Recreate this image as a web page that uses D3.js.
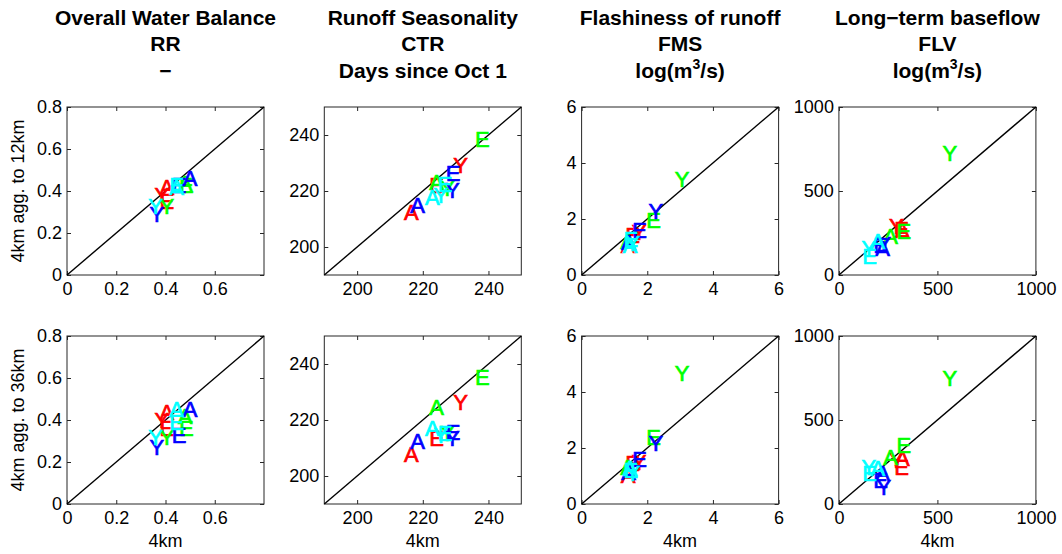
<!DOCTYPE html>
<html>
<head>
<meta charset="utf-8">
<script src="https://cdn.jsdelivr.net/npm/d3@7"></script>
<style>
  body { margin: 0; background: #fff; }
  svg text { font-family: 'Liberation Sans', Arial, Helvetica, sans-serif; }
</style>
</head>
<body>
<svg id="chart" width="1062" height="554"></svg>
<script>
//series order: red, green, blue, cyan; letters A, E, Y for each
var seriesColors = ['#ff0000', '#00ff00', '#0000ff', '#00ffff'];
var markerLetters = ['A', 'E', 'Y'];

//metric titles
var metricNames = ['Overall Water Balance', 'Runoff Seasonality', 'Flashiness of runoff', 'Long\u2212term baseflow'];
var metricCodes = ['RR', 'CTR', 'FMS', 'FLV'];
var metricUnits = ['\u2212', 'Days since Oct 1', 'log(m3/s)', 'log(m3/s)'];
var rowLabels = ['4km agg. to 12km', '4km agg. to 36km'];

//axis domains and ticks
var domains = [[0, 0.8], [190, 250], [0, 6], [0, 1000]];
var xTicks = [[0, 0.2, 0.4, 0.6], [200, 220, 240], [0, 2, 4, 6], [0, 500, 1000]];
var yTicks = [[0, 0.2, 0.4, 0.6, 0.8], [200, 220, 240], [0, 2, 4, 6], [0, 500, 1000]];

//4km values (x), order rA rE rY gA gE gY bA bE bY cA cE cY
var rr4 = [0.405, 0.405, 0.385, 0.48, 0.485, 0.405, 0.50, 0.455, 0.365, 0.445, 0.445, 0.36];
var ctr4 = [216.5, 224.2, 231.5, 224.2, 238.1, 227.5, 218.4, 229.2, 229.0, 222.9, 226.8, 225.5];
var fms4 = [1.42, 1.55, 1.75, 1.40, 2.19, 3.06, 1.43, 1.77, 2.26, 1.48, 1.50, 1.55];
var flv4 = [322, 318, 292, 262, 330, 563, 222, 212, 228, 198, 156, 152];

//aggregated to 12km (y, top row)
var rr12 = [0.42, 0.35, 0.38, 0.44, 0.43, 0.33, 0.46, 0.43, 0.29, 0.42, 0.43, 0.33];
var ctr12 = [212.4, 222.0, 229.2, 223.2, 238.4, 221.0, 214.8, 226.4, 220.4, 217.8, 222.6, 218.4];
var fms12 = [1.08, 1.42, 1.55, 1.20, 1.96, 3.44, 1.16, 1.62, 2.30, 1.06, 1.30, 1.15];
var flv12 = [265, 274, 293, 234, 262, 726, 163, 180, 185, 204, 114, 163];

//aggregated to 36km (y, bottom row)
var rr36 = [0.44, 0.36, 0.40, 0.42, 0.36, 0.32, 0.45, 0.33, 0.27, 0.45, 0.39, 0.32];
var ctr36 = [207.9, 213.5, 226.5, 224.5, 235.2, 215.5, 212.3, 215.8, 213.5, 217.0, 215.2, 214.6];
var fms36 = [1.05, 1.45, 1.50, 1.32, 2.38, 4.67, 1.15, 1.60, 2.17, 1.27, 1.20, 1.10];
var flv36 = [272, 222, 262, 282, 351, 748, 183, 143, 103, 212, 183, 222];

var xValues = [rr4, ctr4, fms4, flv4];
var yValues = [[rr12, ctr12, fms12, flv12], [rr36, ctr36, fms36, flv36]];

//layout
var svg = d3.select('#chart'),
    plotW = 197,
    plotH = 168,
    colLeft = function (c) { return 67 + c * 257.3; },
    rowTop = [107, 336],
    fmt = d3.format('~g');

//builds the points of one panel
var panelData = function (c, r) {
    return xValues[c].map(function (xv, i) {
        return {
            x: xv,
            y: yValues[r][c][i],
            color: seriesColors[Math.floor(i / 3)],
            letter: markerLetters[i % 3]
        };
    });
};

//column titles
metricNames.forEach(function (name, c) {
    var cx = colLeft(c) + plotW / 2;
    var t = svg.append('g').attr('font-weight', 'bold').attr('font-size', 21).attr('text-anchor', 'middle');
    t.append('text').attr('x', cx).attr('y', 25).text(name);
    t.append('text').attr('x', cx).attr('y', 51).text(metricCodes[c]);
    var u = t.append('text').attr('x', cx).attr('y', 78);
    if (metricUnits[c].indexOf('m3') > -1) {
        u.append('tspan').text('log(m');
        u.append('tspan').attr('font-size', 14).attr('dy', -9).text('3');
        u.append('tspan').attr('dy', 9).text('/s)');
    } else {
        u.text(metricUnits[c]);
    }
});

//panels
[0, 1].forEach(function (r) {
    metricNames.forEach(function (name, c) {
        var x = d3.scaleLinear().domain(domains[c]).range([0, plotW]),
            y = d3.scaleLinear().domain(domains[c]).range([plotH, 0]);

        var g = svg.append('g')
            .attr('transform', 'translate(' + colLeft(c) + ',' + rowTop[r] + ')');

        //axes with inward ticks on every side
        var styleAxis = function (sel) {
            sel.select('.domain').remove();
            sel.selectAll('line').attr('stroke', '#262626');
            sel.selectAll('text').attr('font-size', 18).attr('fill', '#000').style('font-family', "'Liberation Sans', Arial, sans-serif");
        };
        g.append('g').attr('transform', 'translate(0,' + plotH + ')')
            .call(d3.axisBottom(x).tickValues(xTicks[c]).tickSize(-4).tickPadding(7).tickFormat(fmt))
            .call(styleAxis);
        g.append('g')
            .call(d3.axisTop(x).tickValues(xTicks[c]).tickSize(-4).tickFormat(''))
            .call(styleAxis);
        g.append('g')
            .call(d3.axisLeft(y).tickValues(yTicks[c]).tickSize(-4).tickPadding(5).tickFormat(fmt))
            .call(styleAxis);
        g.append('g').attr('transform', 'translate(' + plotW + ',0)')
            .call(d3.axisRight(y).tickValues(yTicks[c]).tickSize(-4).tickFormat(''))
            .call(styleAxis);

        //plot box
        g.append('rect')
            .attr('width', plotW).attr('height', plotH)
            .attr('fill', 'none').attr('stroke', '#262626').attr('stroke-width', 1);

        //1:1 line
        g.append('line')
            .attr('x1', x(domains[c][0])).attr('y1', y(domains[c][0]))
            .attr('x2', x(domains[c][1])).attr('y2', y(domains[c][1]))
            .attr('stroke', '#000').attr('stroke-width', 1.4);

        //letter markers
        g.selectAll('.marker')
            .data(panelData(c, r))
            .enter().append('text')
            .attr('class', 'marker')
            .attr('x', function (d) { return x(d.x); })
            .attr('y', function (d) { return y(d.y); })
            .attr('dy', '0.36em')
            .attr('text-anchor', 'middle')
            .attr('font-size', 22)
            .attr('fill', function (d) { return d.color; })
            .attr('stroke', function (d) { return d.color; })
            .attr('stroke-width', 0.7)
            .text(function (d) { return d.letter; });

        //x label on bottom row
        if (r === 1) {
            g.append('text')
                .attr('x', plotW / 2).attr('y', plotH + 43)
                .attr('text-anchor', 'middle').attr('font-size', 18)
                .text('4km');
        }
    });

    //row label
    svg.append('text')
        .attr('transform', 'translate(24,' + (rowTop[r] + plotH / 2) + ') rotate(-90)')
        .attr('text-anchor', 'middle').attr('font-size', 18)
        .text(rowLabels[r]);
});
</script>
</body>
</html>
